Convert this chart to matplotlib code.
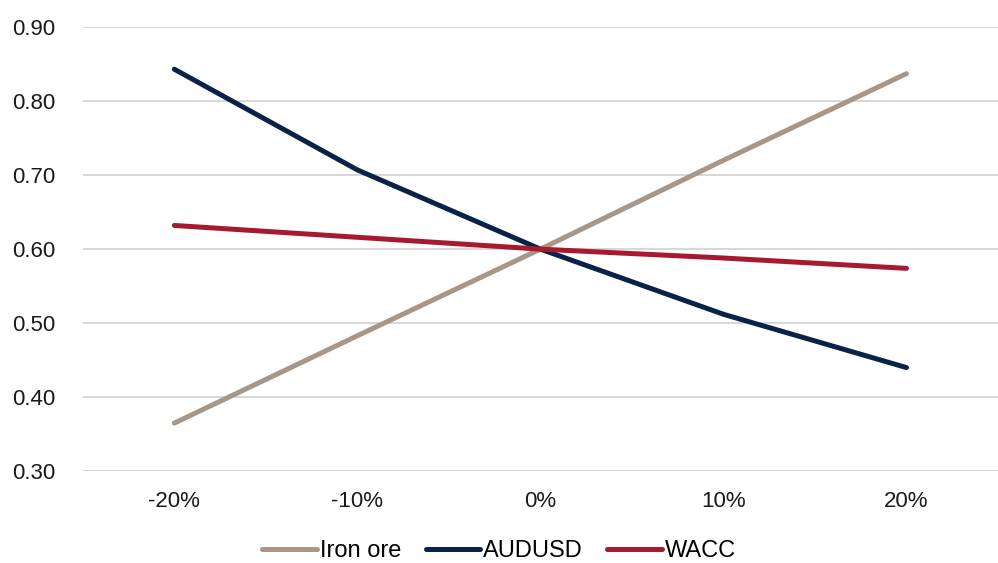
import matplotlib.pyplot as plt

plt.rcParams['font.family'] = ['Liberation Sans', 'DejaVu Sans']

# Sensitivity scenarios and resulting values
scenarios = ['-20%', '-10%', '0%', '10%', '20%']
iron_ore = [0.365, 0.483, 0.600, 0.720, 0.837]
audusd = [0.843, 0.707, 0.600, 0.512, 0.440]
wacc = [0.632, 0.616, 0.600, 0.588, 0.574]

yticks = [0.30, 0.40, 0.50, 0.60, 0.70, 0.80, 0.90]

fig = plt.figure(figsize=(9.98, 5.63), dpi=100)
ax = fig.add_axes([0.083, 0.163, 0.917, 0.789])

x = list(range(len(scenarios)))
ax.plot(x, iron_ore, color='#A89686', lw=3.6, solid_capstyle='round', label='Iron ore')
ax.plot(x, audusd, color='#0B2248', lw=3.6, solid_capstyle='round', label='AUDUSD')
ax.plot(x, wacc, color='#A6192E', lw=3.6, solid_capstyle='round', label='WACC')

ax.set_xlim(-0.5, len(scenarios) - 0.5)
ax.set_ylim(0.30, 0.90)
ax.set_xticks(x)
ax.set_xticklabels(scenarios)
ax.set_yticks(yticks)
ax.set_yticklabels(['%.2f' % v for v in yticks])
ax.tick_params(axis='both', length=0, labelsize=16, colors='#1a1a1a')
ax.tick_params(axis='x', pad=14)
ax.tick_params(axis='y', pad=20)

ax.grid(axis='y', color='#D4D4D4', lw=1.3)
ax.set_axisbelow(True)
for s in ax.spines.values():
    s.set_visible(False)

# legend centred on the figure, below the axis
fig.legend(loc='center', bbox_to_anchor=(0.5, 0.021), ncol=3, frameon=False,
           fontsize=17, handlelength=2.3, handletextpad=0.12, columnspacing=1.05,
           borderpad=0.0)

fig.savefig('out.png', dpi=100)
